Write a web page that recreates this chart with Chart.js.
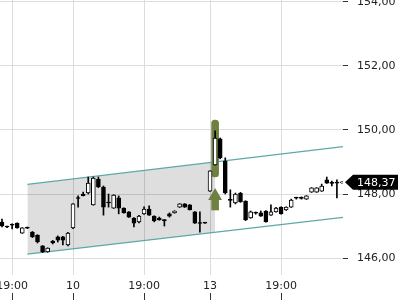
<!DOCTYPE html>
<html>
<head>
<meta charset="utf-8">
<script src="https://cdn.jsdelivr.net/npm/chart.js@4.4.1/dist/chart.umd.min.js"></script>
<style>
    html, body { margin: 0; padding: 0; background: #fff; }
</style>
</head>
<body>
<canvas id="chart" width="400" height="300"></canvas>
<script>
// --- Datos ---
const opens  = [147.12, 146.98, 147.06, 147.09, 146.78, 146.94, 146.81, 146.72, 146.38, 146.19,
                146.53, 146.66, 146.66, 146.41, 146.94, 147.88, 148.00, 148.03, 147.66, 148.47,
                148.22, 147.75, 147.56, 147.88, 147.56, 147.44, 147.25, 147.13, 147.38, 147.53,
                147.31, 147.25, 147.19, 147.38, 147.41, 147.59, 147.69, 147.66, 147.44, 147.10,
                147.10, 148.09, 148.91, 149.72, 149.03, 147.83, 147.72, 148.03, 147.78, 147.25,
                147.41, 147.41, 147.47, 147.34, 147.44, 147.59, 147.50, 147.59, 147.88, 147.90,
                147.84, 148.06, 148.06, 148.09, 148.44, 148.34, 148.36, 148.35];
const highs  = [147.22, 147.00, 147.07, 147.10, 146.95, 146.97, 146.83, 146.73, 146.39, 146.32,
                146.55, 146.69, 146.68, 146.80, 147.70, 147.94, 148.06, 148.53, 148.53, 148.53,
                148.25, 148.00, 147.98, 147.94, 147.57, 147.45, 147.26, 147.33, 147.60, 147.63,
                147.32, 147.28, 147.20, 147.41, 147.48, 147.70, 147.70, 147.67, 147.45, 147.44,
                147.11, 148.72, 149.97, 149.75, 149.13, 148.13, 148.03, 148.05, 147.79, 147.47,
                147.44, 147.47, 147.48, 147.66, 147.58, 147.60, 147.60, 147.84, 147.90, 147.91,
                147.95, 148.20, 148.20, 148.31, 148.53, 148.40, 148.44, 148.38];
const lows   = [146.97, 146.95, 146.91, 146.93, 146.77, 146.92, 146.64, 146.47, 146.17, 146.18,
                146.44, 146.50, 146.41, 146.38, 146.92, 147.59, 147.94, 148.00, 147.65, 148.20,
                147.34, 147.59, 147.55, 147.38, 147.40, 147.27, 146.97, 147.10, 147.36, 147.33,
                147.13, 147.18, 147.00, 147.28, 147.40, 147.58, 147.58, 147.50, 147.08, 146.81,
                147.08, 148.08, 148.90, 149.10, 148.00, 147.59, 147.69, 147.74, 147.17, 147.24,
                147.37, 147.30, 147.12, 147.33, 147.43, 147.37, 147.49, 147.58, 147.84, 147.84,
                147.83, 148.05, 148.05, 148.08, 148.33, 148.25, 147.88, 148.34];
const closes = [147.00, 146.97, 147.03, 146.94, 146.94, 146.93, 146.66, 146.50, 146.19, 146.31,
                146.47, 146.56, 146.56, 146.78, 147.69, 147.86, 147.95, 148.34, 148.50, 148.22,
                147.59, 147.72, 147.97, 147.56, 147.41, 147.28, 147.09, 147.31, 147.53, 147.34,
                147.16, 147.19, 147.17, 147.31, 147.47, 147.69, 147.59, 147.50, 147.09, 147.08,
                147.09, 148.72, 149.75, 149.13, 148.03, 147.80, 148.00, 147.75, 147.19, 147.44,
                147.40, 147.31, 147.13, 147.44, 147.56, 147.38, 147.59, 147.81, 147.87, 147.86,
                147.94, 148.19, 148.19, 148.25, 148.34, 148.33, 148.34, 148.37];

const xTickPos    = [2, 14, 28, 41, 55];
const xTickLabels = ['19:00', '10', '19:00', '13', '19:00'];
const yTicks      = [146, 148, 150, 152, 154];
const lastPrice   = 148.37;

// Canal de tendencia
const channelX     = [5, 67.2];
const channelUpper = [148.30, 149.48];
const channelLower = [146.12, 147.27];
const shadeX       = [5, 42];
const shadeUpper   = [148.30, 149.00];
const shadeLower   = [146.12, 146.80];

// Señal (barra verde + flecha)
const signalX     = 42;
const signalRange = [148.53, 150.31];
const arrowStem   = [147.50, 147.85];
const arrowHead   = 147.94;

const X_MIN = -0.39, X_MAX = 67.2;
const OLIVE = '#6f8040';
const TEAL = '#5ea8a8';
const GRID = '#dcdcdc';

Chart.defaults.font.family = '"DejaVu Sans", sans-serif';
Chart.defaults.font.size = 11;

const idx = opens.map((_, i) => i);
const bodies = idx.map(i => ({ x: i, y: [opens[i], closes[i]] }));
const wicks = idx.map(i => ({ x: i, y: [lows[i], highs[i]] }));
const bodyFill = idx.map(i => closes[i] > opens[i] ? '#fff' : '#000');
const toPts = (xs, ys) => xs.map((x, i) => ({ x: x, y: ys[i] }));
const fmt = v => Number(v).toFixed(2).replace('.', ',');

// Etiqueta del último precio
const lastTag = {
    id: 'lastTag',
    afterDraw(chart) {
        const { ctx, chartArea, scales } = chart;
        const y = scales.y.getPixelForValue(lastPrice);
        const x0 = chartArea.right + 2;
        ctx.save();
        ctx.fillStyle = '#000';
        ctx.beginPath();
        ctx.moveTo(x0, y);
        ctx.lineTo(x0 + 8, y - 7.5);
        ctx.lineTo(chart.width - 2, y - 7.5);
        ctx.lineTo(chart.width - 2, y + 7.5);
        ctx.lineTo(x0 + 8, y + 7.5);
        ctx.closePath();
        ctx.fill();
        ctx.fillStyle = '#fff';
        ctx.font = '11px "DejaVu Sans"';
        ctx.textBaseline = 'middle';
        ctx.fillText(fmt(lastPrice), x0 + 12, y + 0.5);
        ctx.restore();
    }
};

const noPad = s => { s.paddingLeft = 0; s.paddingRight = 0; s.paddingTop = 0; s.paddingBottom = 0; };

new Chart(document.getElementById('chart'), {
    type: 'bar',
    data: {
        datasets: [
            { type: 'bar', data: bodies, backgroundColor: bodyFill, borderColor: '#000', borderWidth: 1,
              borderSkipped: false, barThickness: 4, grouped: false, minBarLength: 1 },
            { type: 'bar', data: wicks, backgroundColor: '#000', barThickness: 1, grouped: false },
            { type: 'line', data: [{ x: signalX, y: arrowHead }], showLine: false, pointStyle: 'triangle',
              pointRadius: 8, backgroundColor: OLIVE, borderWidth: 0 },
            { type: 'bar', data: [{ x: signalX, y: arrowStem }], backgroundColor: OLIVE, barThickness: 7, grouped: false },
            { type: 'bar', data: [{ x: signalX, y: signalRange }], backgroundColor: OLIVE, barThickness: 7,
              borderRadius: 4, borderSkipped: false, grouped: false },
            { type: 'line', data: toPts(channelX, channelUpper), borderColor: TEAL, borderWidth: 1.3, pointRadius: 0 },
            { type: 'line', data: toPts(channelX, channelLower), borderColor: TEAL, borderWidth: 1.3, pointRadius: 0 },
            { type: 'line', data: toPts(shadeX, shadeUpper), borderWidth: 0, pointRadius: 0, fill: false },
            { type: 'line', data: toPts(shadeX, shadeLower), borderWidth: 0, pointRadius: 0, fill: '-1',
              backgroundColor: 'rgba(0,0,0,0.13)' }
        ]
    },
    options: {
        responsive: false,
        animation: false,
        layout: { padding: 0, autoPadding: false },
        plugins: { legend: { display: false }, tooltip: { enabled: false } },
        scales: {
            x: {
                type: 'linear', min: X_MIN, max: X_MAX, offset: false, weight: 0,
                border: { display: false },
                grid: { color: GRID, drawTicks: false, offset: false },
                ticks: { padding: 5, color: '#222', autoSkip: false, maxRotation: 0,
                         callback: (v, i) => xTickLabels[i] },
                afterBuildTicks: s => { s.ticks = xTickPos.map(v => ({ value: v })); },
                afterFit: s => { s.height = 18; noPad(s); }
            },
            x2: {
                type: 'linear', position: 'bottom', min: X_MIN, max: X_MAX, offset: false, weight: 1,
                border: { display: false },
                grid: { drawOnChartArea: false, color: '#333', tickColor: '#333', tickLength: 7, offset: false },
                ticks: { callback: () => '' },
                afterBuildTicks: s => { s.ticks = xTickPos.map(v => ({ value: v })); },
                afterFit: s => { s.height = 7; noPad(s); }
            },
            y: {
                position: 'right', min: 145.47, max: 154.06, beginAtZero: false,
                border: { display: false },
                grid: { color: GRID, tickColor: '#333', tickLength: 5 },
                ticks: { padding: 9, color: '#222', callback: v => fmt(v) },
                afterBuildTicks: s => { s.ticks = yTicks.map(v => ({ value: v })); },
                afterFit: s => { s.width = 57; noPad(s); }
            }
        }
    },
    plugins: [lastTag]
});
</script>
</body>
</html>
